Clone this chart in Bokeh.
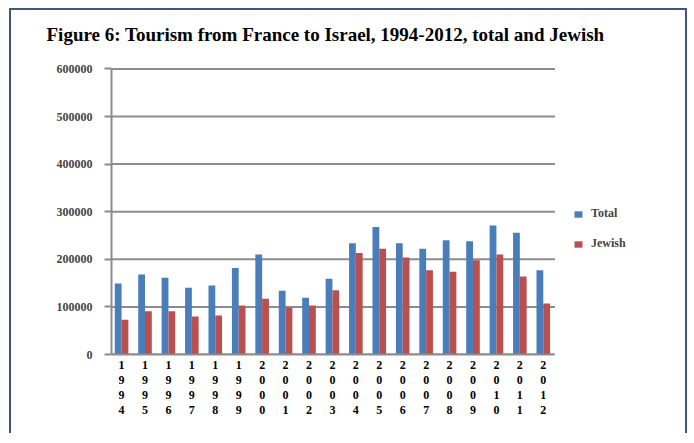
from bokeh.plotting import figure
from bokeh.models import (ColumnDataSource, Range1d, FixedTicker, NumeralTickFormatter,
                          Legend, LegendItem, LinearAxis, Title)
from bokeh.transform import dodge
from bokeh.embed import file_html
from bokeh.resources import INLINE

years = ["1994", "1995", "1996", "1997", "1998", "1999", "2000", "2001", "2002", "2003",
         "2004", "2005", "2006", "2007", "2008", "2009", "2010", "2011", "2012"]
total = [149000, 168000, 161000, 140000, 145000, 182000, 210000, 134000, 119000, 159000,
         234000, 268000, 234000, 222000, 240000, 238000, 271000, 256000, 177000]
jewish = [73000, 91000, 91000, 80000, 82000, 103000, 117000, 99000, 103000, 135000,
          213000, 222000, 204000, 177000, 174000, 198000, 210000, 164000, 107000]
y_ticks = [0, 100000, 200000, 300000, 400000, 500000, 600000]
title_text = "Figure 6: Tourism from  France to Israel, 1994-2012, total and Jewish"

idx = list(range(len(years)))
src = ColumnDataSource(dict(idx=idx, year=years, total=total, jewish=jewish))

FONT = "Liberation Serif"
GRAY = "#8c8c8c"
BORDER = "2px solid #3f5684"

x_start = -0.43
x_end_cats = len(years) - 0.5

p = figure(width=678, height=425, x_range=Range1d(x_start, 22.15), y_range=Range1d(0, 603000),
           output_backend="svg", toolbar_location=None, x_axis_type=None,
           min_border_left=100, min_border_right=49, min_border_top=57, min_border_bottom=81,
           styles={"border-top": BORDER, "border-left": BORDER, "border-right": BORDER,
                   "margin-left": "9px", "margin-top": "8px"})
p.outline_line_color = None
p.xgrid.grid_line_color = None
p.ygrid.grid_line_color = None

# horizontal gridlines spanning the category area only
p.segment(x0=[x_start] * len(y_ticks), y0=y_ticks, x1=[x_end_cats] * len(y_ticks), y1=y_ticks,
          line_color=GRAY, line_width=2)

b1 = p.vbar(x=dodge("idx", -0.145), top="total", width=0.29, source=src,
            fill_color="#4a7ebb", line_color=None)
b2 = p.vbar(x=dodge("idx", 0.145), top="jewish", width=0.29, source=src,
            fill_color="#b9504f", line_color=None)

# blank spacer axis directly above the frame (one white tick, no label text),
# keeps the title clear of the plot area
spacer = LinearAxis(ticker=FixedTicker(ticks=[x_start]), axis_line_color=None,
                    major_tick_line_color="#ffffff", minor_tick_line_color=None,
                    major_tick_out=23, major_tick_in=0, major_label_standoff=0,
                    major_label_text_font_size="0px",
                    major_label_overrides={x_start: ""})
p.add_layout(spacer, "above")

main_title = Title(text=title_text, text_font=FONT, text_font_style="bold",
                   text_font_size="19px", align="left", offset=-65, standoff=0,
                   text_color="#000000")
p.add_layout(main_title, "above")

p.yaxis.ticker = FixedTicker(ticks=y_ticks)
p.yaxis.bounds = (0, 600000)
p.yaxis.formatter = NumeralTickFormatter(format="0")
p.yaxis.axis_line_color = GRAY
p.yaxis.axis_line_width = 2
p.yaxis.major_tick_line_color = GRAY
p.yaxis.major_tick_line_width = 2
p.yaxis.major_tick_out = 7
p.yaxis.major_tick_in = 0
p.yaxis.minor_tick_line_color = None
p.yaxis.major_label_text_font = FONT
p.yaxis.major_label_text_font_style = "bold"
p.yaxis.major_label_text_font_size = "12px"
p.yaxis.major_label_standoff = 12

# year labels written vertically, one digit per row: one axis per digit row
x_axes = []
for i in range(4):
    ax = LinearAxis(ticker=FixedTicker(ticks=idx), major_tick_line_color=None,
                    minor_tick_line_color=None, major_tick_out=0, major_tick_in=0,
                    major_label_standoff=6 if i == 0 else 4)
    if i == 0:
        ax.axis_line_color = GRAY
        ax.axis_line_width = 2
        ax.bounds = (x_start, x_end_cats)
    else:
        ax.axis_line_color = None
    ax.major_label_overrides = {k: years[k][i] for k in idx}
    ax.major_label_text_font = FONT
    ax.major_label_text_font_style = "bold"
    ax.major_label_text_font_size = "12px"
    ax.major_label_text_color = "#000000"
    p.add_layout(ax, "below")
    x_axes.append(ax)

legend = Legend(items=[LegendItem(label="Total", renderers=[b1]),
                       LegendItem(label="Jewish", renderers=[b2])],
                location=(462, 103))
legend.border_line_color = None
legend.background_fill_alpha = 0
legend.margin = 0
legend.padding = 0
legend.spacing = 15
legend.glyph_width = 10
legend.glyph_height = 8
legend.label_standoff = 8
legend.label_text_font = FONT
legend.label_text_font_style = "bold"
legend.label_text_font_size = "12px"
p.add_layout(legend, "center")

open("out.html", "w").write(file_html(p, INLINE))
